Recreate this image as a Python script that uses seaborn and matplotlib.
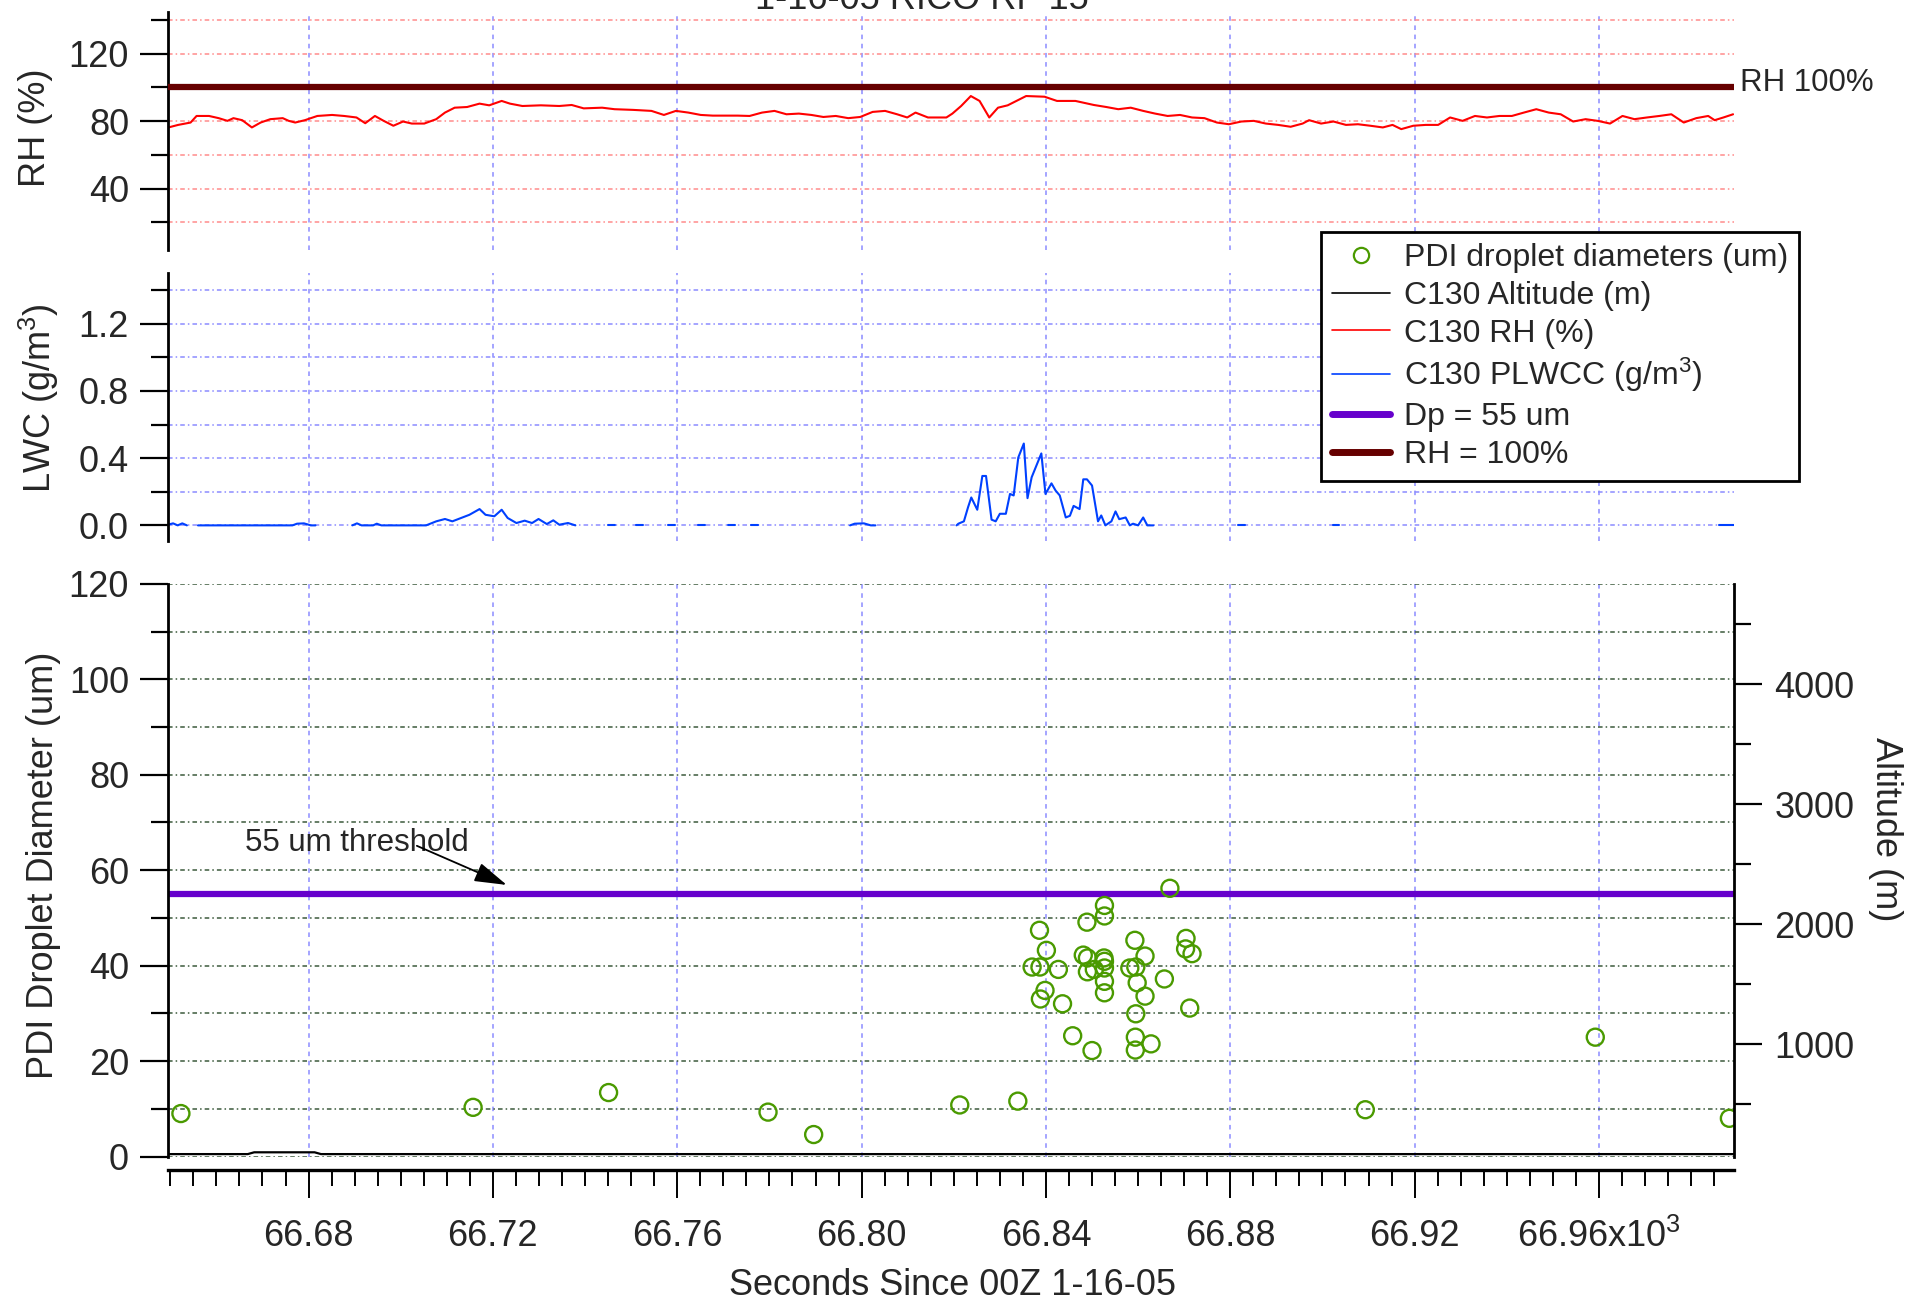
import numpy as np
import pandas as pd
import matplotlib
matplotlib.use('Agg')
import matplotlib.pyplot as plt
import matplotlib.transforms as mtrans
from matplotlib.lines import Line2D
from matplotlib.ticker import FixedLocator, FuncFormatter
import seaborn as sns

# ---- data (time = seconds since 00Z) ----
rh_time = [66649.6, 66651.7, 66654.4, 66655.7, 66658.4, 66660.5, 66662.4, 66663.7, 66665.6, 66667.7,
           66669.6, 66671.7, 66674.4, 66675.7, 66677.1, 66679.2, 66681.9, 66685.1, 66687.7, 66690.4,
           66692.3, 66694.4, 66696.3, 66698.4, 66700.5, 66702.4, 66705.1, 66707.7, 66709.6, 66711.7,
           66714.4, 66717.1, 66719.2, 66721.9, 66723.7, 66726.4, 66730.4, 66734.4, 66737.1, 66739.7,
           66743.7, 66746.4, 66750.4, 66754.4, 66757.1, 66759.7, 66762.4, 66765.1, 66767.7, 66773.1,
           66775.7, 66778.4, 66781.1, 66783.7, 66786.4, 66789.1, 66791.7, 66794.4, 66797.1, 66799.7,
           66802.4, 66805.1, 66807.7, 66809.9, 66811.7, 66814.4, 66818.4, 66819.7, 66821.6, 66823.7,
           66825.6, 66827.7, 66829.6, 66831.7, 66833.9, 66835.7, 66839.7, 66842.4, 66846.4, 66850.4,
           66853.1, 66855.7, 66858.4, 66861.1, 66863.7, 66866.4, 66869.1, 66871.7, 66874.4, 66877.1,
           66879.7, 66882.4, 66885.1, 66887.7, 66890.4, 66893.1, 66895.7, 66897.1, 66899.7, 66902.4,
           66905.1, 66907.7, 66910.4, 66913.1, 66915.2, 66917.1, 66919.7, 66922.4, 66925.1, 66927.7,
           66930.4, 66933.1, 66935.7, 66938.4, 66941.1, 66943.7, 66946.4, 66949.1, 66951.7, 66954.4,
           66957.1, 66959.7, 66962.4, 66965.1, 66967.7, 66970.4, 66973.1, 66975.7, 66978.4, 66981.1,
           66983.7, 66985.1, 66987.0, 66989.1]
rh_vals = [76.3, 77.8, 79.2, 83.1, 83.1, 81.8, 80.2, 81.8, 80.6, 76.3,
           79.2, 81.2, 81.8, 80.2, 79.2, 80.6, 83.1, 83.7, 83.1, 82.2,
           78.8, 83.1, 80.2, 77.3, 79.8, 78.6, 78.6, 81.2, 85.1, 88.0,
           88.4, 90.4, 89.4, 92.0, 90.4, 89.0, 89.4, 89.0, 89.6, 87.6,
           88.0, 87.1, 86.7, 86.1, 83.7, 86.1, 85.1, 83.7, 83.3, 83.3,
           83.1, 85.1, 86.1, 84.1, 84.5, 83.7, 82.5, 83.1, 81.8, 82.5,
           85.5, 86.1, 84.1, 82.2, 85.1, 82.2, 82.2, 84.5, 89.0, 94.9,
           92.0, 82.2, 88.0, 89.4, 92.4, 94.9, 94.5, 92.0, 92.0, 89.6,
           88.4, 87.1, 88.0, 86.1, 84.5, 83.1, 83.7, 82.2, 81.8, 79.2,
           78.2, 79.8, 80.2, 78.6, 77.8, 76.7, 78.6, 80.6, 78.6, 79.8,
           77.8, 78.2, 77.3, 76.3, 77.8, 75.3, 77.3, 77.8, 77.8, 82.2,
           80.2, 83.1, 82.2, 83.1, 83.1, 85.1, 87.1, 85.1, 84.1, 79.8,
           81.2, 80.2, 78.6, 83.1, 81.2, 82.2, 83.1, 84.1, 79.2, 81.8,
           83.1, 80.6, 82.2, 84.1]

nan = np.nan
lwc_time = [66649.6, 66650.6, 66651.6, 66652.6, 66653.6, nan,
            66656.0, 66676.5, 66677.5, 66679.0, 66680.5, 66681.5, nan,
            66689.5, 66690.5, 66691.5, 66694.0, 66694.8, 66695.8, 66705.5,
            66707.7, 66709.6, 66711.2, 66713.1, 66714.9, 66717.1, 66718.4, 66720.3, 66721.9, 66723.2,
            66725.1, 66726.9, 66728.5, 66729.9, 66731.7, 66733.1, 66734.4, 66736.3, 66737.9, nan,
            66745.0, 66746.5, nan, 66751.0, 66752.5, nan, 66758.0, 66759.5, nan,
            66764.5, 66766.0, nan, 66771.0, 66772.5, nan, 66776.0, 66777.5, nan,
            66797.5, 66798.5, 66800.5, 66802.0, 66803.0, nan,
            66820.6, 66821.0, 66822.2, 66823.1, 66823.8, 66825.1, 66826.2, 66827.0, 66828.2, 66829.1,
            66830.0, 66831.3, 66832.2, 66833.0, 66834.0, 66835.2, 66836.0, 66836.9, 66839.0, 66839.9,
            66841.2, 66842.1, 66843.0, 66844.3, 66845.2, 66846.0, 66847.3, 66848.1, 66848.9, 66850.0,
            66851.3, 66852.0, 66852.9, 66854.2, 66855.1, 66855.9, 66857.3, 66858.2, 66858.9, 66860.0,
            66861.1, 66862.0, 66863.3, nan,
            66881.7, 66883.1, nan, 66902.3, 66903.6, nan, 66986.0, 66989.3]
lwc_vals = [0.005, 0.012, 0.0, 0.012, 0.0, nan,
            0.0, 0.0, 0.01, 0.012, 0.0, 0.0, nan,
            0.0, 0.012, 0.0, 0.0, 0.01, 0.0, 0.0,
            0.024, 0.038, 0.024, 0.044, 0.063, 0.097, 0.063, 0.054, 0.093, 0.044,
            0.014, 0.028, 0.014, 0.038, 0.008, 0.030, 0.004, 0.014, 0.0, nan,
            0.0, 0.0, nan, 0.0, 0.0, nan, 0.0, 0.0, nan,
            0.0, 0.0, nan, 0.0, 0.0, nan, 0.0, 0.0, nan,
            0.0, 0.01, 0.012, 0.0, 0.0, nan,
            0.0, 0.01, 0.024, 0.108, 0.166, 0.093, 0.294, 0.294, 0.034, 0.024,
            0.069, 0.069, 0.187, 0.178, 0.404, 0.487, 0.162, 0.286, 0.428, 0.187,
            0.25, 0.207, 0.178, 0.047, 0.057, 0.116, 0.097, 0.274, 0.274, 0.237,
            0.024, 0.059, 0.0, 0.024, 0.083, 0.037, 0.047, 0.0, 0.01, 0.0,
            0.047, 0.0, 0.0, nan,
            0.0, 0.0, nan, 0.0, 0.0, nan, 0.0, 0.0]

alt_time = [66649.5, 66666.8, 66668.2, 66681.3, 66682.7, 66989.3]
alt_vals = [85, 85, 100, 100, 85, 85]

pdi_time = [66652.3, 66715.7, 66745.1, 66779.7, 66789.6, 66821.3, 66833.9, 66909.3, 66959.2, 66988.3,
            66866.9, 66852.7, 66852.7, 66848.9, 66838.6, 66859.3, 66870.4, 66840.1, 66870.3, 66871.7,
            66861.5, 66848.1, 66849.0, 66852.6, 66852.7, 66837.0, 66838.7, 66842.7, 66849.0, 66850.5,
            66852.7, 66858.2, 66859.5, 66852.7, 66865.7, 66859.8, 66839.8, 66838.8, 66852.7, 66861.5,
            66843.6, 66871.2, 66859.5, 66845.8, 66859.4, 66862.8, 66859.4, 66850.0]
pdi_diam = [9.0, 10.3, 13.4, 9.3, 4.6, 10.8, 11.6, 9.8, 25.0, 8.0,
            56.2, 52.6, 50.4, 49.1, 47.4, 45.3, 45.7, 43.2, 43.5, 42.5,
            42.0, 42.2, 41.6, 41.6, 40.9, 39.7, 39.7, 39.2, 38.7, 39.2,
            39.5, 39.5, 39.7, 36.7, 37.2, 36.4, 34.8, 33.0, 34.3, 33.6,
            32.0, 31.1, 29.9, 25.3, 25.0, 23.6, 22.3, 22.2]

x_major = [66680, 66720, 66760, 66800, 66840, 66880, 66920, 66960]
x_labels = ['66.68', '66.72', '66.76', '66.80', '66.84', '66.88', '66.92', '66.96x10$^{3}$']

GREEN = '#4a9a00'
RED = '#ff0000'
BLUE = '#0040ff'
PURPLE = '#6600cc'
DARKRED = '#660000'

sns.set_theme(style='white')
plt.rcParams['font.family'] = ['Liberation Sans', 'DejaVu Sans']
plt.rcParams['mathtext.fontset'] = 'custom'
plt.rcParams['mathtext.rm'] = 'Liberation Sans'
plt.rcParams['mathtext.it'] = 'Liberation Sans:italic'
plt.rcParams['axes.unicode_minus'] = False

FS = 26

fig = plt.figure(figsize=(19.27, 13), dpi=100)
L, W = 168 / 1927, 1566 / 1927
ax_rh = fig.add_axes([L, 1 - 249.5 / 1300, W, 237.2 / 1300])
ax_lwc = fig.add_axes([L, 1 - 541 / 1300, W, 268.2 / 1300], sharex=ax_rh)
ax_d = fig.add_axes([L, 1 - 1156.5 / 1300, W, 572.7 / 1300], sharex=ax_rh)
ax_alt = ax_d.twinx()

# RH panel
sns.lineplot(x=rh_time, y=rh_vals, ax=ax_rh, color=RED, lw=1.5, estimator=None, sort=False)
ax_rh.axhline(100, color=DARKRED, lw=4.5, zorder=3)
ax_rh.text(1.004, 102.5, 'RH 100%', transform=mtrans.blended_transform_factory(ax_rh.transAxes, ax_rh.transData),
           ha='left', va='center', fontsize=22.5, clip_on=False)

# LWC panel, NaN breaks the trace into separate pieces
lwc = pd.DataFrame({'t': lwc_time, 'lwc': lwc_vals})
lwc['seg'] = lwc['lwc'].isna().cumsum()
lwc = lwc.dropna()
sns.lineplot(data=lwc, x='t', y='lwc', units='seg', estimator=None, sort=False, ax=ax_lwc, color=BLUE, lw=1.5)

# droplets + threshold
ax_d.axhline(55, color=PURPLE, lw=4.5, zorder=2)
sns.scatterplot(x=pdi_time, y=pdi_diam, ax=ax_d, marker='o', s=150, facecolor='none',
                edgecolor=GREEN, linewidth=1.7, zorder=3)
ax_d.text(66666.1, 65.7, '55 um threshold', ha='left', va='center', fontsize=22.5)
ax_d.annotate('', xy=(66723.0, 56.9), xytext=(66703.5, 65.1),
              arrowprops=dict(arrowstyle='-|>,head_length=1.0,head_width=0.3', color='black',
                              lw=1.3, mutation_scale=20, shrinkA=0, shrinkB=0))

# altitude on the right axis
sns.lineplot(x=alt_time, y=alt_vals, ax=ax_alt, color='black', lw=1.6, estimator=None, sort=False)

vgrid = dict(color='#8c8cff', lw=1.1, ls=(0, (3, 3)))
for ax, gcol in [(ax_rh, '#ff8c8c'), (ax_lwc, '#8c8cff'), (ax_d, '#3c5a3c')]:
    for s in ['top', 'right', 'bottom']:
        ax.spines[s].set_visible(False)
    ax.spines['left'].set_linewidth(2)
    ax.spines['left'].set_color('black')
    ax.grid(axis='y', which='both', color=gcol, lw=1.1, ls=(0, (3, 2, 1, 2)))
    ax.grid(axis='x', which='major', **vgrid)
    ax.grid(axis='x', which='minor', visible=False)
    ax.tick_params(axis='y', which='major', direction='out', length=20, width=1.6, pad=8,
                   labelsize=FS, left=True, color='black')
    ax.tick_params(axis='y', which='minor', direction='out', length=12, width=1.6, left=True, color='black')
    ax.set_xlabel('')

ax_rh.set_ylim(4, 144.5)
ax_rh.yaxis.set_major_locator(FixedLocator([40, 80, 120]))
ax_rh.yaxis.set_minor_locator(FixedLocator([20, 60, 100, 140]))
ax_lwc.set_ylim(-0.093, 1.503)
ax_lwc.yaxis.set_major_locator(FixedLocator([0.0, 0.4, 0.8, 1.2]))
ax_lwc.yaxis.set_minor_locator(FixedLocator([0.2, 0.6, 1.0, 1.4]))
ax_lwc.yaxis.set_major_formatter(FuncFormatter(lambda v, p: f'{v:.1f}'))
ax_d.set_ylim(0, 120)
ax_d.yaxis.set_major_locator(FixedLocator(list(range(0, 121, 20))))
ax_d.yaxis.set_minor_locator(FixedLocator(list(range(10, 111, 20))))

for ax in (ax_rh, ax_lwc):
    ax.tick_params(axis='x', which='both', bottom=False, labelbottom=False)

# shared x axis (drawn on the droplet panel, detached below)
ax_d.set_xlim(66649.5, 66989.3)
ax_d.xaxis.set_major_locator(FixedLocator(x_major))
ax_d.xaxis.set_major_formatter(FuncFormatter(lambda v, p: x_labels[x_major.index(int(round(v)))]
                                             if int(round(v)) in x_major else ''))
ax_d.xaxis.set_minor_locator(FixedLocator(list(np.arange(66650, 66990, 5))))
ax_d.spines['bottom'].set_visible(True)
ax_d.spines['bottom'].set_position(('outward', 9.7))
ax_d.spines['bottom'].set_linewidth(2.4)
ax_d.spines['bottom'].set_color('black')
ax_d.tick_params(axis='x', which='major', direction='out', length=20, width=1.4, pad=15,
                 labelsize=FS, bottom=True, color='black')
ax_d.tick_params(axis='x', which='minor', direction='out', length=11.5, width=1.4, bottom=True, color='black')

for s in ['top', 'left', 'bottom']:
    ax_alt.spines[s].set_visible(False)
ax_alt.spines['right'].set_linewidth(2)
ax_alt.spines['right'].set_color('black')
ax_alt.set_ylim(65, 4835)
ax_alt.yaxis.set_major_locator(FixedLocator([1000, 2000, 3000, 4000]))
ax_alt.yaxis.set_minor_locator(FixedLocator([500, 1500, 2500, 3500, 4500]))
ax_alt.tick_params(axis='y', which='major', direction='out', length=20, width=1.6, pad=9,
                   labelsize=FS, right=True, color='black')
ax_alt.tick_params(axis='y', which='minor', direction='out', length=12, width=1.6, right=True, color='black')
ax_alt.grid(False)

# axis labels
ax_rh.set_ylabel('RH (%)', fontsize=FS, ha='center', va='center')
ax_rh.yaxis.set_label_coords(-0.0846, 0.513)
ax_lwc.set_ylabel('LWC (g/m$^{3}$)', fontsize=FS, ha='center', va='center')
ax_lwc.yaxis.set_label_coords(-0.0825, 0.532)
ax_d.set_ylabel('PDI Droplet Diameter (um)', fontsize=FS, ha='center', va='center')
ax_d.yaxis.set_label_coords(-0.0798, 0.509)
ax_alt.set_ylabel('Altitude (m)', fontsize=FS, rotation=270, ha='center', va='center')
ax_alt.yaxis.set_label_coords(1.0966, 0.571)
ax_d.set_xlabel('Seconds Since 00Z 1-16-05', fontsize=FS, va='center')
ax_d.xaxis.set_label_coords(0.501, -0.2254)

fig.text(921.8 / 1927, 1 - 9 / 1300, '1-16-05 RICO RF 15', ha='center', va='baseline', fontsize=FS)

handles = [
    Line2D([], [], ls='none', marker='o', ms=11, mfc='none', mec=GREEN, mew=1.6),
    Line2D([], [], color='black', lw=1.2),
    Line2D([], [], color=RED, lw=1.2),
    Line2D([], [], color=BLUE, lw=1.2),
    Line2D([], [], color=PURPLE, lw=5, solid_capstyle='round'),
    Line2D([], [], color=DARKRED, lw=5, solid_capstyle='round'),
]
labels = ['PDI droplet diameters (um)', 'C130 Altitude (m)', 'C130 RH (%)',
          'C130 PLWCC (g/m$^{3}$)', 'Dp = 55 um', 'RH = 100%']
leg = fig.legend(handles, labels, loc='upper left', bbox_to_anchor=(1321 / 1927, 1 - 232 / 1300),
                 bbox_transform=fig.transFigure, fontsize=23, frameon=True, fancybox=False,
                 framealpha=1, edgecolor='black', borderpad=0.35, labelspacing=0.24,
                 handlelength=1.8, handletextpad=0.45, borderaxespad=0)
leg.get_frame().set_linewidth(2)

fig.savefig('out.png', dpi=100)
